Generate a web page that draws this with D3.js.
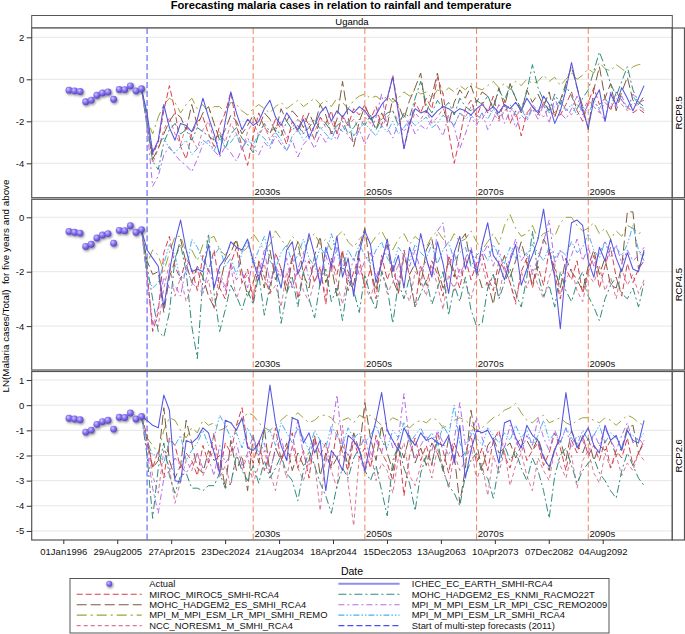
<!DOCTYPE html>
<html><head><meta charset="utf-8">
<script src="https://cdn.jsdelivr.net/npm/d3@7"></script>
<style>body{margin:0;background:#fff}</style>
</head><body>
<svg id="chart" width="685" height="634"></svg>
<script>
// ---------------- DATA ----------------
const titleText = "Forecasting malaria cases in relation to rainfall and temperature";
const countryLabel = "Uganda";
const panelLabels = ["RCP8.5", "RCP4.5", "RCP2.6"];
const yTicks85 = [2, 0, -2, -4];
const yTicks45 = [0, -2, -4];
const yTicks26 = [1, 0, -1, -2, -3, -4, -5];
const xTickLabels = ["01Jan1996","29Aug2005","27Apr2015","23Dec2024","21Aug2034","18Apr2044","15Dec2053","13Aug2063","10Apr2073","07Dec2082","04Aug2092"];
const decadeYears = [2030, 2050, 2070, 2090];
const decadeLabels = ["2030s", "2050s", "2070s", "2090s"];
const forecastStartYear = 2011;

const actualYears = [1997,1998,1999,2000,2001,2002,2003,2004,2005,2006,2007,2008,2009,2010];
const actualValues = [-0.52,-0.55,-0.58,-1.07,-0.99,-0.76,-0.65,-0.60,-0.95,-0.48,-0.49,-0.31,-0.55,-0.45];

const forecastYears = d3.range(2011, 2101);

const seriesNames = ["MIROC_MIROC5_SMHI-RCA4","MOHC_HADGEM2_ES_SMHI_RCA4","MPI_M_MPI_ESM_LR_MPI_SMHI_REMO","NCC_NORESM1_M_SMHI_RCA4","ICHEC_EC_EARTH_SMHI-RCA4","MOHC_HADGEM2_ES_KNMI_RACMO22T","MPI_M_MPI_ESM_LR_MPI_CSC_REMO2009","MPI_M_MPI_ESM_LR_SMHI_RCA4"];

// RCP8.5
const rcp85_miroc = [-2.0,-3.6,-3.0,-1.5,-0.3,-1.5,-3.2,-3.8,-2.6,-2.0,
-1.8,-2.6,-3.2,-2.2,-1.6,-0.6,-2.2,-3.2,-4.1,-2.7,
-1.6,-2.3,-2.6,-1.9,-2.4,-3.1,-2.0,-2.5,-1.7,-2.2,
-2.9,-1.8,-2.1,-1.5,-2.6,-1.8,-2.2,-1.4,-1.7,-1.2,
-1.9,-1.3,-2.2,-1.0,0.2,-1.4,-3.3,-2.2,-1.1,-1.6,
-0.9,-1.4,0.1,-0.7,-2.5,-4.0,-2.8,-1.4,-1.0,-1.8,
-1.1,-1.6,-0.8,-1.9,-1.0,-2.1,-1.5,-2.7,-1.6,-1.3,
-1.7,-1.1,-1.5,-1.7,-1.7,-1.2,-0.6,-1.5,-2.0,-1.1,
-0.4,-1.2,-0.9,-1.5,-0.6,-1.0,-1.3,-1.6,-1.4,-1.6];
const rcp85_mohcSmhi = [-1.8,-3.8,-3.3,-2.6,-2.0,-1.6,-1.8,-2.4,-1.2,-2.2,
-1.6,-1.3,-2.1,-2.9,-2.4,-1.7,-2.0,-2.6,-2.2,-1.7,
-2.3,-1.6,-1.9,-2.5,-1.4,-2.0,-1.5,-1.8,-2.3,-1.6,
-2.2,-1.2,-1.7,-2.6,-1.9,-0.1,-1.8,-3.2,-2.0,-1.3,
-1.8,-2.4,-1.6,-2.2,-0.9,-1.2,-1.9,-1.0,-0.4,0.3,
-1.6,-0.8,0.3,-1.4,-2.1,-1.1,-0.5,-0.9,-0.3,-1.1,
-0.6,-0.8,-1.4,-0.4,-1.3,-0.2,-0.9,-1.6,-0.5,-1.1,
-0.7,-1.3,-0.6,-1.8,-1.0,-0.2,0.6,-0.4,-1.3,-2.4,
-0.5,0.6,-0.9,-0.2,-1.5,-0.6,0.1,-1.0,-1.2,-0.8];
const rcp85_mpiRemo = [-1.9,-2.6,-1.8,-1.2,-0.9,-1.1,-1.6,-1.2,-0.9,-1.4,
-1.2,-1.6,-1.3,-1.3,-1.6,-1.1,-1.2,-1.5,-1.7,-1.4,
-1.2,-1.4,-1.6,-1.3,-1.1,-1.4,-1.2,-1.0,-1.3,-1.1,
-0.9,-1.2,-1.0,-1.3,-0.9,-1.1,-1.4,-1.0,-0.8,-0.7,
-0.9,-0.8,-1.0,-0.8,-1.1,-0.9,-0.6,-0.8,-0.5,-0.7,
-0.6,-0.9,-0.5,-0.7,-0.4,-0.6,-0.3,-0.5,-0.2,-0.4,
-0.5,-0.3,-0.1,-0.4,-0.2,-0.5,-0.1,-0.3,0.0,-0.2,
-0.1,0.2,-0.1,0.1,-0.3,0.0,0.3,0.0,0.2,0.5,
0.3,0.8,0.5,0.4,0.7,0.5,0.3,0.6,0.7,0.7];
const rcp85_ncc = [-2.1,-4.0,-3.3,-2.4,-1.8,-2.6,-3.1,-2.2,-2.8,-3.3,
-2.4,-2.0,-2.9,-2.5,-3.0,-2.1,-2.6,-3.4,-2.5,-2.0,
-2.7,-2.2,-2.9,-2.4,-2.0,-2.8,-2.3,-1.9,-2.6,-2.1,
-2.5,-1.8,-2.3,-2.0,-2.6,-1.7,-2.2,-1.9,-2.4,-1.8,
-2.1,-1.6,-2.3,-1.8,-1.5,-2.0,-1.7,-2.2,-1.6,-1.9,
-1.5,-2.1,-1.8,-1.4,-1.9,-2.2,-1.6,-1.8,-1.3,-1.7,
-1.9,-1.4,-1.6,-2.0,-1.5,-1.3,-1.8,-1.4,-1.7,-1.2,
-1.5,-1.8,-1.3,-1.6,-1.1,-1.4,-1.7,-1.2,-1.5,-1.0,
-1.3,-1.6,-1.1,-1.4,-0.9,-1.2,-1.5,-1.1,-1.3,-1.4];
const rcp85_ichec = [-1.6,-3.5,-2.9,-1.2,-2.3,-2.9,-2.1,-2.2,-2.5,-1.9,
-0.9,-1.8,-2.6,-3.6,-2.0,-0.6,-1.6,-2.4,-1.9,-2.2,
-2.0,-1.4,-1.0,-1.8,-2.2,-1.6,-2.0,-2.4,-1.9,-2.8,
-2.2,-1.6,-1.3,-2.0,-1.5,-1.8,-1.4,-1.6,-1.3,-1.5,
-1.9,-1.7,-1.2,-0.9,0.1,-1.6,-3.3,-2.1,-1.4,-1.6,
-1.5,-1.8,-1.5,-1.3,-1.4,-1.6,-1.4,-1.5,-1.7,-1.4,
-1.2,-1.5,-1.3,-1.6,-1.2,-1.4,-1.1,-1.5,-0.9,-1.3,
-1.6,-0.8,-1.2,-2.1,-1.5,-0.5,0.8,-0.4,-1.5,-2.3,
-1.0,-0.5,-2.0,-0.7,-1.2,-0.4,-0.9,-1.5,-0.9,-0.3];
const rcp85_mohcKnmi = [-2.2,-3.9,-4.3,-3.0,-2.4,-2.1,-2.6,-2.4,-2.9,-2.3,
-2.5,-2.7,-2.9,-2.6,-3.3,-2.6,-2.3,-2.8,-3.1,-3.5,
-2.6,-2.1,-2.5,-2.3,-2.7,-2.0,-2.4,-2.2,-2.6,-2.3,
-1.9,-2.4,-2.1,-2.5,-2.2,-2.0,-2.6,-2.3,-1.9,-2.2,
-1.7,-2.4,-1.9,-1.6,-1.5,-2.2,-1.6,-1.8,-0.9,-0.1,
-1.2,-1.6,-1.0,-1.4,-1.1,-1.7,-0.9,-1.3,-1.5,-1.0,
-1.2,-0.8,-1.3,-0.5,-1.0,-0.3,-0.9,-1.4,-0.6,0.7,
-0.4,-1.0,-1.5,-0.7,-1.2,-0.3,-0.8,-1.4,-0.9,-0.5,
0.4,1.3,0.6,-0.2,-0.8,-0.1,0.6,-0.5,-1.1,-1.3];
const rcp85_mpiCsc = [-2.3,-5.1,-4.6,-3.6,-3.2,-3.6,-3.9,-4.1,-4.4,-3.8,
-3.1,-2.9,-3.4,-3.7,-3.2,-3.5,-3.9,-3.3,-2.8,-3.2,
-3.6,-3.0,-3.3,-2.7,-3.1,-3.4,-2.9,-3.7,-3.1,-2.8,
-3.3,-2.6,-3.0,-2.5,-2.9,-2.2,-2.7,-3.0,-2.4,-3.1,
-2.5,-1.8,-0.7,-2.3,-2.8,-2.1,-2.5,-2.0,-2.6,-2.2,
-2.4,-1.9,-2.2,-2.7,-1.7,-2.3,-3.3,-2.6,-1.8,-2.2,
-1.6,-2.4,-1.9,-1.2,-2.1,-1.5,-2.3,-1.7,-2.0,-1.4,
-1.9,-1.2,-2.1,-0.9,-1.6,-1.9,-1.4,-0.8,-1.7,-1.2,
-0.9,-1.5,-2.0,-0.6,-1.3,-0.8,-1.4,-0.7,-1.1,-1.0];
const rcp85_mpiRca4 = [-2.0,-3.4,-3.0,-2.8,-3.3,-3.5,-3.2,-2.9,-3.6,-3.3,
-2.9,-3.1,-3.4,-2.8,-3.2,-3.0,-2.6,-3.3,-2.9,-3.1,
-2.6,-2.8,-3.2,-2.5,-2.9,-3.4,-2.7,-2.4,-2.9,-2.6,
-2.8,-2.3,-2.6,-2.9,-2.2,-2.5,-2.0,-2.7,-2.3,-2.1,
-2.4,-2.7,-2.2,-2.5,-2.0,-2.6,-2.3,-1.9,-2.2,-2.0,
-1.8,-2.3,-2.1,-1.7,-2.0,-2.2,-1.6,-1.9,-1.7,-2.0,
-1.6,-1.9,-1.4,-1.8,-1.5,-1.2,-1.7,-1.4,-1.9,-1.3,
-1.5,-1.2,-1.6,-1.3,-1.0,-1.5,-1.2,-1.7,-1.3,-1.6,
-1.1,-1.4,-0.9,-1.3,-0.6,-1.0,-1.4,-0.8,-1.2,-1.5];

// RCP4.5
const rcp45_miroc = [-2.0,-4.2,-3.5,-1.3,-0.7,-1.8,-2.3,-1.5,-1.9,-2.7,
-1.4,-2.0,-1.2,-2.6,-3.0,-1.7,-1.1,-2.4,-1.9,-3.1,
-1.6,-2.2,-2.8,-1.3,-1.9,-2.5,-1.4,-3.0,-2.0,-1.6,
-2.4,-1.8,-3.2,-1.5,-2.1,-1.2,-2.7,-2.0,-1.5,-2.6,
-1.9,-3.0,-1.4,-2.3,-1.7,-2.8,-1.2,-2.2,-3.3,-1.8,
-2.5,-1.6,-2.1,-2.9,-1.4,-2.0,-2.6,-1.5,-2.3,-1.7,
-1.3,-2.2,-2.7,-1.6,-1.9,-2.4,-3.1,-2.0,-1.5,-2.6,
-1.8,-2.5,-1.2,-2.1,-3.0,-1.9,-2.3,-1.6,-2.8,-2.0,
-1.4,-2.6,-1.8,-1.1,-2.2,-2.9,-1.7,-2.4,-1.9,-1.6];
const rcp45_mohcSmhi = [-1.6,-2.1,-2.0,-3.5,-2.2,-1.6,-0.8,-1.7,-2.4,-1.8,
-2.2,-2.9,-3.3,-2.5,-1.6,-1.3,-0.8,-2.0,-2.9,-2.4,
-1.7,-2.6,-1.2,-2.3,-1.9,-2.8,-1.5,-0.9,-2.1,-2.6,
-1.4,-0.7,-2.4,-1.8,-2.9,-1.3,-2.0,-2.5,-1.1,-0.4,
-1.9,-2.7,-1.6,-1.0,-2.3,-2.8,-1.4,-2.1,-1.7,-2.5,
-1.2,-0.8,-1.9,-2.6,-1.5,-2.2,-0.9,-0.6,-1.8,-1.9,
-2.6,-2.4,-3.2,-2.0,-1.4,-2.2,-1.6,-0.9,-1.7,-2.5,
-1.6,-0.8,-1.2,-1.9,-2.6,-1.5,-2.0,-2.3,-2.7,-1.8,
-1.2,-2.1,-1.5,-2.5,-2.6,-1.8,0.2,0.2,-1.9,-1.3];
const rcp45_mpiRemo = [-1.7,-1.2,-1.4,-2.0,-1.3,-0.7,-0.7,-1.3,-1.2,-1.6,
-1.0,-0.8,-0.7,-1.2,-1.4,-1.0,-0.9,-1.3,-1.1,-0.6,
-0.9,-1.2,-1.0,-0.5,-0.8,-1.1,-0.7,-0.9,-1.3,-0.8,
-0.6,-1.0,-0.8,-1.2,-0.7,-0.5,-0.9,-1.1,-0.8,-0.6,
-1.0,-0.7,-0.5,-0.9,-1.2,-0.8,-0.6,-1.0,-0.7,-0.9,
-1.1,-0.7,-0.5,-0.8,-1.0,-0.6,-0.9,-0.8,-0.5,-0.9,
-1.2,-0.9,-0.6,-1.0,-0.3,0.1,-0.4,-0.7,-0.6,-0.3,
-0.8,-0.6,-0.5,-0.7,-0.2,0.0,0.0,-0.3,-0.5,-0.4,
-0.2,-0.6,-0.4,-0.8,-0.5,-0.7,-0.3,-0.4,-0.6,-0.5];
const rcp45_ncc = [-2.2,-3.9,-4.0,-2.6,-1.7,-2.9,-2.2,-3.1,-2.5,-1.9,
-2.7,-2.3,-3.4,-2.0,-2.6,-1.8,-3.0,-2.4,-2.1,-2.9,
-2.2,-1.7,-2.8,-2.5,-3.3,-2.0,-2.6,-1.9,-2.7,-3.1,
-2.3,-2.0,-2.9,-1.6,-2.4,-3.2,-2.1,-2.7,-1.8,-2.5,
-3.0,-2.2,-1.9,-2.8,-2.4,-1.7,-2.6,-3.1,-2.0,-2.3,
-2.9,-1.8,-2.5,-3.4,-2.1,-2.7,-1.9,-2.4,-3.0,-2.2,
-1.7,-2.6,-2.1,-2.9,-1.8,-2.4,-3.2,-2.0,-2.6,-1.9,
-2.5,-3.0,-2.2,-1.7,-2.8,-2.3,-1.9,-2.7,-3.1,-2.1,
-2.4,-1.8,-2.7,-2.2,-3.0,-1.9,-2.5,-2.1,-2.8,-2.3];
const rcp45_ichec = [-1.2,-1.5,-1.8,-3.3,-2.0,-0.9,-0.1,-1.2,-2.0,-1.9,
-2.0,-1.0,-2.6,-1.8,-1.5,-0.9,-1.1,-1.2,-0.8,-1.6,
-2.3,-1.5,-0.5,-1.9,-2.6,-1.2,-0.9,-2.1,-1.6,-0.6,
-1.4,-2.5,-1.1,-1.8,-0.7,-2.2,-1.5,-2.9,-1.3,-0.5,
-1.0,-2.4,-1.7,-0.8,-2.0,-1.4,-2.6,-1.1,-1.8,-0.6,
-1.5,-2.2,-0.9,-1.7,-2.8,-1.3,-0.7,-1.9,-1.2,-2.1,
-1.0,-0.2,-1.4,-1.7,-2.3,-1.6,-1.0,-2.5,-1.9,-1.4,
-0.8,0.3,-1.2,-2.2,-4.1,-1.8,-0.2,-0.1,-0.3,-1.6,
-2.2,-1.1,-1.6,-0.8,-1.5,-2.0,-1.3,-1.9,-2.0,-1.2];
const rcp45_mohcKnmi = [-1.8,-3.0,-4.2,-4.4,-3.5,-1.5,-1.0,-2.0,-4.0,-5.2,
-2.2,-0.6,-2.8,-4.2,-3.4,-2.5,-2.9,-3.4,-2.7,-3.2,
-2.1,-3.6,-2.5,-1.8,-3.9,-2.8,-2.2,-3.3,-2.0,-3.0,
-3.7,-2.4,-1.9,-3.1,-2.6,-3.8,-2.3,-2.7,-3.5,-2.1,
-2.9,-3.4,-2.0,-2.6,-3.9,-2.4,-3.0,-2.2,-3.3,-2.8,
-2.3,-3.2,-2.6,-2.0,-3.6,-2.5,-3.1,-2.2,-3.4,-4.0,
-3.9,-2.6,-2.1,-3.0,-2.4,-1.9,-2.8,-3.3,-2.2,-0.5,
-2.1,-2.9,-2.5,-3.3,-2.0,-2.7,-3.1,-2.4,-2.0,-2.9,
-3.3,-3.8,-3.0,-2.5,-2.2,-2.8,-3.0,-2.6,-3.3,-2.4];
const rcp45_mpiCsc = [-2.3,-4.0,-3.3,-2.2,-2.6,-2.5,-2.9,-1.8,-2.4,-2.6,
-2.8,-1.9,-2.5,-2.2,-2.7,-1.7,-2.3,-2.0,-2.6,-1.5,
-2.1,-1.2,-2.4,-1.8,-2.2,-1.5,-2.6,-1.9,-1.3,-2.3,
-1.7,-2.5,-1.4,-2.0,-1.1,-1.8,-2.3,-1.5,-2.1,-1.6,
-1.3,-2.2,-1.7,-1.0,-1.9,-2.4,-1.4,-1.8,-1.2,-2.0,
-1.6,-2.1,-0.5,-0.2,-1.8,-1.3,-2.2,-1.5,-1.1,-1.9,
-1.4,-1.0,-1.8,-1.2,-2.0,-1.5,-0.8,-1.6,-1.3,-2.1,
-1.5,-0.9,-0.1,-1.7,-1.2,-1.9,-1.4,-0.8,-1.6,-1.1,
-1.8,-1.3,-0.9,-1.5,-1.0,-1.7,-1.2,-1.6,-1.4,-1.1];
const rcp45_mpiRca4 = [-2.1,-2.6,-2.4,-1.7,-1.0,-1.4,-2.3,-2.0,-0.8,-1.1,
-1.6,-1.9,-1.4,-1.1,-1.8,-1.5,-2.1,-1.3,-0.9,-1.7,
-1.2,-0.7,-1.6,-1.9,-1.3,-1.0,-1.7,-1.4,-0.8,-1.5,
-1.8,-1.1,-1.4,-0.6,-1.3,-1.9,-1.2,-1.6,-1.0,-1.4,
-1.7,-1.2,-0.9,-1.5,-1.8,-1.1,-1.4,-1.6,-1.0,-1.3,
-1.5,-1.0,-1.7,-1.2,-0.9,-1.6,-1.3,-1.1,-1.8,-1.4,
-1.2,-1.6,-1.0,-1.4,-1.7,-1.1,-1.5,-1.2,-1.4,-1.0,
-1.3,-1.6,-1.1,-1.5,-1.2,-1.4,-0.9,-1.3,-1.1,-0.6,
-1.2,-1.5,-0.9,-1.3,-1.1,-1.4,-1.0,-0.3,-1.2,-1.6];

// RCP2.6
const rcp26_miroc = [-1.2,-2.5,-1.8,-2.9,-1.3,-1.6,-2.5,-1.9,-2.2,-2.8,
-1.6,-2.3,-1.1,-2.7,-1.5,-1.9,-0.8,-0.1,-1.6,-2.3,
-1.4,-2.6,-1.9,-0.9,-2.2,-1.7,-1.1,-2.5,-1.8,-2.9,
-1.3,-2.0,-1.5,-2.4,-1.0,-1.9,-2.6,-1.4,-2.1,-1.7,
-2.5,-1.2,-1.9,-2.3,-3.0,-1.5,-3.6,-2.0,-1.3,-2.2,
-1.6,-2.4,-1.1,-1.8,-2.7,-1.5,-2.1,-1.9,-1.2,-2.3,
-1.7,-2.6,-1.4,-1.0,-2.0,-2.5,-1.6,-1.3,-2.2,-1.8,
-1.5,-2.4,-1.9,-1.1,-1.7,-2.6,-1.4,-1.9,-1.2,-2.0,
-1.6,-2.2,-1.4,-2.5,-1.8,-2.1,-1.3,-2.4,-1.9,-1.4];
const rcp26_mohcSmhi = [-1.4,-2.5,-2.2,-0.1,-2.2,-2.9,-2.4,-0.6,-1.5,-2.5,
-2.7,-1.8,-2.2,-2.0,-3.3,-1.4,-2.6,-2.0,-3.4,-1.2,
-2.3,-0.9,-2.7,-1.7,-2.2,-1.5,-2.6,-1.9,-2.4,-2.2,
-1.2,-2.8,-1.9,-2.5,-2.1,-1.6,-2.4,-1.1,-1.8,0.1,
-1.3,-2.2,-0.8,-1.9,-2.6,-1.5,-2.1,-1.2,-2.3,-1.7,
-2.4,-1.5,-1.9,-2.6,-1.3,-2.0,-3.9,-2.5,-0.2,-1.5,
-2.6,-1.6,-1.3,-1.9,-1.7,-1.5,-2.1,-1.6,-1.4,-1.8,
-1.3,-2.0,-2.6,-1.7,-1.4,-2.2,-1.0,-1.6,-1.9,-1.3,
-2.2,-1.6,-1.8,-1.4,-2.0,-1.7,-0.9,-0.8,-1.9,-1.5];
const rcp26_mpiRemo = [-1.3,-1.6,-1.9,-1.0,-0.5,-0.6,-1.0,-1.3,-0.9,-1.1,
-0.6,-0.8,-0.7,-1.0,-0.9,-0.7,-0.8,-0.6,-0.3,-0.4,
-0.7,-0.9,-1.0,-0.8,-0.6,-0.4,-0.5,-0.3,-0.5,-0.7,
-0.6,-0.4,-0.4,-0.5,-0.8,-0.6,-0.5,-0.7,-0.4,-0.5,
-0.4,-0.6,-0.8,-0.7,-0.5,-0.6,-0.8,-0.9,-0.7,-0.6,
-0.7,-0.5,-0.6,-0.9,-0.8,-0.6,-0.5,-0.6,-0.8,-1.0,
-0.9,-0.7,-0.5,-0.4,-0.2,-0.1,0.07,-0.3,-0.6,-0.7,
-0.5,-0.4,-0.7,-0.6,-0.5,-0.7,-0.8,-0.6,-0.5,-0.5,
-0.6,-0.7,-0.5,-0.6,-0.8,-0.6,-0.4,-0.5,-0.7,-0.8];
const rcp26_ncc = [-1.5,-2.8,-3.5,-1.8,-2.5,-3.9,-3.0,-2.2,-2.6,-1.9,
-2.8,-2.3,-1.7,-2.9,-2.4,-3.2,-1.9,-2.6,-2.0,-3.1,
-2.4,-1.8,-2.7,-3.4,-2.1,-2.9,-1.6,-2.5,-3.0,-2.2,
-2.3,-4.2,-1.9,-2.6,-3.3,-0.8,-3.1,-4.8,-2.0,-2.7,
-1.8,-3.0,-2.3,-2.6,-3.5,-2.1,-1.5,-2.8,-3.2,-2.4,
-2.0,-2.9,-1.7,-2.5,-3.3,-1.9,-2.6,-2.2,-1.6,-3.0,
-2.3,-3.6,-2.0,-2.7,-1.8,-3.2,-2.4,-1.9,-2.8,-3.4,
-2.1,-2.6,-3.0,-1.7,-2.4,-2.9,-2.0,-3.3,-2.2,-1.8,
-2.7,-3.1,-1.9,-2.5,-2.0,-2.8,-2.3,-2.6,-1.9,-2.2];
const rcp26_ichec = [-0.6,-0.8,-0.9,0.4,-0.2,-3.0,-3.05,-1.4,-1.5,-1.3,
-0.9,-1.1,-1.9,-2.7,-0.6,-0.7,-1.0,-0.5,-1.7,-1.8,
-1.5,-0.9,0.8,-0.7,-1.6,-2.2,-0.5,-0.6,-1.5,-1.1,
-1.9,-1.4,-3.4,-1.8,-2.1,-2.6,-1.2,-1.4,-1.8,-2.6,
-1.5,-0.6,0.5,-1.0,-1.4,-1.8,-0.9,-1.3,-1.6,-1.1,
-1.4,-1.3,-1.5,-1.6,-1.2,-2.3,-0.8,-2.9,-1.8,-1.0,
-1.1,-1.0,-1.4,-2.3,-0.7,-0.6,-1.3,-1.7,-0.8,-1.2,
-1.4,-2.1,-2.45,-1.8,-1.2,0.5,-1.0,-1.7,-1.3,-0.9,
-1.6,-1.9,-0.8,-1.4,-1.2,-1.8,-1.0,-1.4,-1.5,-0.6];
const rcp26_mohcKnmi = [-2.0,-4.5,-2.5,-1.5,-2.8,-3.5,-2.8,-2.7,-3.3,-3.3,
-3.4,-3.2,-3.2,-2.7,-3.3,-3.1,-2.0,-2.6,-3.0,-2.4,
-3.1,-2.2,-2.9,-2.5,-2.0,-2.7,-3.0,-3.8,-2.6,-1.8,
-2.4,-3.1,-3.6,-4.3,-3.2,-2.5,-2.9,-2.1,-1.7,-2.6,
-3.0,-2.4,-3.4,-4.4,-2.2,-1.6,-2.5,-3.1,-4.2,-2.7,
-2.0,-2.3,-1.4,-2.6,-3.2,-3.5,-4.0,-2.8,-2.2,-1.9,
-2.7,-2.9,-3.7,-2.4,-1.6,-2.2,-1.8,-2.5,-3.0,-2.1,
-2.6,-3.4,-4.5,-2.8,-2.0,-1.7,-2.4,-3.1,-2.6,-2.3,
-2.1,-2.7,-3.0,-3.4,-3.7,-2.6,-1.9,-2.4,-2.9,-3.2];
const rcp26_mpiCsc = [-1.8,-3.3,-4.3,-2.9,-2.6,-2.1,-2.4,-2.7,-2.3,-1.9,
-2.5,-2.1,-2.8,-1.6,-2.3,-2.0,-1.5,-2.4,-1.9,-1.2,
-2.0,-1.5,-2.6,-1.8,-1.3,-2.2,-1.7,-0.6,-2.0,-2.4,
-1.5,-1.9,-2.3,-1.1,0.4,-1.6,-2.0,-1.3,-1.8,-1.2,
-2.2,-1.4,-1.9,-0.9,-1.7,-1.3,0.46,-1.5,-2.1,-1.6,
-1.2,-1.8,-1.0,-1.5,-2.0,-1.4,0.1,-1.6,-1.2,-0.5,
-1.3,-1.9,-1.5,-1.1,-1.7,-0.8,-1.4,-1.9,-1.2,-1.6,
-0.5,-1.3,-1.8,-1.0,-1.5,-0.9,-1.7,-1.2,-1.4,-1.9,
-1.1,-1.6,-0.9,-1.4,-1.8,-1.2,-0.7,-1.5,-1.3,-1.6];
const rcp26_mpiRca4 = [-1.4,-2.0,-1.9,-2.3,-1.4,-1.6,-1.2,-2.2,-1.8,-1.5,
-1.0,-1.6,-1.3,-0.4,-0.8,-1.3,-1.1,-1.7,-0.9,-1.4,
-1.9,-1.2,-1.0,-1.6,-0.7,-1.1,-1.5,-0.9,-1.3,-1.8,
-1.0,-1.4,-1.7,-0.8,-1.2,-1.6,-0.9,-1.3,-1.1,-1.5,
-1.2,-0.8,-1.4,-1.7,-1.0,-1.3,-0.7,-1.5,-1.2,-0.9,
-1.4,-1.1,-1.6,-0.8,-1.2,0.0,-1.5,-2.0,-1.0,-1.3,
-1.6,-0.9,-1.2,-1.5,-1.1,-1.4,-0.8,-1.3,-1.0,-1.6,
-1.2,-0.6,-1.4,-1.1,-1.5,-0.9,-1.3,-1.6,-1.0,-1.4,
-1.2,-0.8,-1.5,-1.1,-1.3,-1.7,-1.0,-1.2,-1.4,-1.1];

// ---------------- BUILD ----------------
const panelSeries = [
  [rcp85_miroc, rcp85_mohcSmhi, rcp85_mpiRemo, rcp85_ncc, rcp85_ichec, rcp85_mohcKnmi, rcp85_mpiCsc, rcp85_mpiRca4],
  [rcp45_miroc, rcp45_mohcSmhi, rcp45_mpiRemo, rcp45_ncc, rcp45_ichec, rcp45_mohcKnmi, rcp45_mpiCsc, rcp45_mpiRca4],
  [rcp26_miroc, rcp26_mohcSmhi, rcp26_mpiRemo, rcp26_ncc, rcp26_ichec, rcp26_mohcKnmi, rcp26_mpiCsc, rcp26_mpiRca4]
];
const panelTicks = [yTicks85, yTicks45, yTicks26];

const styles = {
  "MIROC_MIROC5_SMHI-RCA4": {color:"#D8404E", dash:"6,3", lw:1},
  "MOHC_HADGEM2_ES_SMHI_RCA4": {color:"#7A5A3E", dash:"10,4", lw:1},
  "MPI_M_MPI_ESM_LR_MPI_SMHI_REMO": {color:"#9DA33A", dash:"10,4,2,4", lw:1},
  "NCC_NORESM1_M_SMHI_RCA4": {color:"#D8779A", dash:"4,3", lw:1},
  "ICHEC_EC_EARTH_SMHI-RCA4": {color:"#5555E2", dash:null, lw:1.05},
  "MOHC_HADGEM2_ES_KNMI_RACMO22T": {color:"#2F8C7C", dash:"8,3,2,3", lw:1},
  "MPI_M_MPI_ESM_LR_MPI_CSC_REMO2009": {color:"#B46CEA", dash:"6,3,2,3", lw:1},
  "MPI_M_MPI_ESM_LR_SMHI_RCA4": {color:"#4AAEF0", dash:"6,2,1.5,2,1.5,2", lw:1}
};
const drawOrder = [2,3,1,0,5,6,7,4];

const font = "'Liberation Sans', Arial, Helvetica, sans-serif";
const svg = d3.select("#chart").style("font-family", font);
const plotL = 31.7, plotR = 672.3, stripR = 684.5;
const boxes = [
  {top:28, bottom:197.7, dom:[-5.638, 2.443]},
  {top:199.3, bottom:370, dom:[-5.614, 0.662]},
  {top:371.5, bottom:540, dom:[-5.36, 1.339]}
];
const yd = yr => new Date(yr, 0, 1);
const x = d3.scaleTime().domain([new Date(1990,4,5), new Date(2105,0,20)]).range([plotL, plotR]);
const parseTick = d3.timeParse("%d%b%Y");
const xTickDates = xTickLabels.map(parseTick);

const defs = svg.append("defs");
const grad = defs.append("radialGradient").attr("id","ball").attr("cx","38%").attr("cy","35%").attr("r","65%");
grad.append("stop").attr("offset","0%").attr("stop-color","#D2CAFF");
grad.append("stop").attr("offset","45%").attr("stop-color","#8C7BF2");
grad.append("stop").attr("offset","100%").attr("stop-color","#5A44CC");
const filt = defs.append("filter").attr("id","shadow").attr("x","-60%").attr("y","-60%").attr("width","220%").attr("height","220%");
filt.append("feDropShadow").attr("dx",1).attr("dy",1.4).attr("stdDeviation",0.9).attr("flood-color","#333").attr("flood-opacity",0.55);

// title
svg.append("text").attr("x", 341).attr("y", 9).attr("text-anchor","middle")
  .attr("font-size", 11.2).attr("font-weight","bold").text(titleText);

// country strip
svg.append("rect").attr("x", plotL).attr("y", 15.5).attr("width", plotR-plotL).attr("height", 12.5)
  .attr("fill","#fff").attr("stroke","#555").attr("stroke-width",1);
svg.append("text").attr("x",(plotL+plotR)/2).attr("y",22).attr("dy","0.35em").attr("text-anchor","middle")
  .attr("font-size",9.5).text(countryLabel);

const line = d3.line().x(d => x(d.date)).y(d => d.y);

boxes.forEach((b, i) => {
  const y = d3.scaleLinear().domain(b.dom).range([b.bottom, b.top]);
  const g = svg.append("g");
  const clipId = "clip" + i;
  defs.append("clipPath").attr("id", clipId).append("rect")
    .attr("x", plotL).attr("y", b.top).attr("width", plotR-plotL).attr("height", b.bottom-b.top);
  g.append("rect").attr("x", plotL).attr("y", b.top).attr("width", plotR-plotL).attr("height", b.bottom-b.top).attr("fill","#fff");
  g.selectAll(".grid").data(panelTicks[i]).join("line")
    .attr("x1", plotL).attr("x2", plotR).attr("y1", d => y(d)).attr("y2", d => y(d))
    .attr("stroke","#E6E6E6").attr("stroke-width",1);
  const inner = g.append("g").attr("clip-path", `url(#${clipId})`);
  decadeYears.forEach((yr, k) => {
    inner.append("line").attr("x1", x(yd(yr))).attr("x2", x(yd(yr))).attr("y1", b.top).attr("y2", b.bottom)
      .attr("stroke","#F4845A").attr("stroke-width",1).attr("stroke-dasharray","6,3");
    inner.append("text").attr("x", x(yd(yr)) + 1.2).attr("y", b.bottom - 3)
      .attr("font-size", 9.5).attr("fill","#111").text(decadeLabels[k]);
  });
  inner.append("line").attr("x1", x(yd(forecastStartYear))).attr("x2", x(yd(forecastStartYear)))
    .attr("y1", b.top).attr("y2", b.bottom).attr("stroke","#4D4DF5").attr("stroke-width",1).attr("stroke-dasharray","6,3");
  const lastActual = {date: yd(actualYears[actualYears.length-1]), y: y(actualValues[actualValues.length-1])};
  drawOrder.forEach(si => {
    const name = seriesNames[si];
    const st = styles[name];
    const vals = panelSeries[i][si];
    const pts = [lastActual].concat(forecastYears.map((yr, k) => ({date: yd(yr), y: y(vals[k])})));
    inner.append("path").attr("d", line(pts)).attr("fill","none")
      .attr("stroke", st.color).attr("stroke-width", st.lw)
      .attr("stroke-dasharray", st.dash).attr("stroke-linejoin","round");
  });
  inner.selectAll(".dot").data(actualYears).join("circle")
    .attr("cx", (d) => x(yd(d))).attr("cy", (d, k) => y(actualValues[k])).attr("r", 3.4)
    .attr("fill","url(#ball)").attr("filter","url(#shadow)");
  g.append("rect").attr("x", plotL).attr("y", b.top).attr("width", plotR-plotL).attr("height", b.bottom-b.top)
    .attr("fill","none").attr("stroke","#555").attr("stroke-width",1.2);
  const ax = g.append("g").attr("transform", `translate(${plotL},0)`)
    .call(d3.axisLeft(y).tickValues(panelTicks[i]).tickSize(5).tickPadding(2.5).tickFormat(d => String(d)));
  ax.select(".domain").remove();
  ax.selectAll("line").attr("stroke","#333");
  ax.selectAll("text").attr("font-size", 9.5).attr("font-family", font).attr("fill","#111");
  g.append("rect").attr("x", plotR).attr("y", b.top).attr("width", stripR - plotR).attr("height", b.bottom-b.top)
    .attr("fill","#fff").attr("stroke","#555").attr("stroke-width",1.2);
  g.append("text").attr("transform", `translate(${(plotR+stripR)/2},${(b.top+b.bottom)/2}) rotate(-90)`)
    .attr("text-anchor","middle").attr("dy","0.35em").attr("font-size",9.5).text(panelLabels[i]);
  if (i === 2) {
    const xa = g.append("g").attr("transform", `translate(0,${b.bottom})`)
      .call(d3.axisBottom(x).tickValues(xTickDates).tickSize(4).tickPadding(4).tickFormat((d, k) => xTickLabels[k]));
    xa.select(".domain").remove();
    xa.selectAll("line").attr("stroke","#333");
    xa.selectAll("text").attr("font-size", 9.5).attr("font-family", font).attr("fill","#111");
  }
});

svg.append("text").attr("x", (plotL+plotR)/2).attr("y", 571).attr("dy","0.35em").attr("text-anchor","middle")
  .attr("font-size", 10.5).text("Date");
svg.append("text").attr("transform", "translate(9,286) rotate(-90)").attr("text-anchor","middle")
  .attr("font-size", 9.8).style("white-space","pre").text("LN(Malaria cases/Total)  for five years and above");

const legL = 70, legT = 578.5, legR = 609, legB = 633;
svg.append("rect").attr("x", legL).attr("y", legT).attr("width", legR-legL).attr("height", legB-legT)
  .attr("fill","#fff").attr("stroke","#555").attr("stroke-width",1);
const leftItems = ["Actual", seriesNames[0], seriesNames[1], seriesNames[2], seriesNames[3]];
const rightItems = [seriesNames[4], seriesNames[5], seriesNames[6], seriesNames[7], "Start of multi-step forecasts (2011)"];
const rowY = k => 583.8 + k * 10.45;
function legendItem(name, k, x0, x1, tx) {
  const yy = rowY(k);
  if (name === "Actual") {
    svg.append("circle").attr("cx", (x0+x1)/2).attr("cy", yy).attr("r", 3).attr("fill","url(#ball)").attr("filter","url(#shadow)");
  } else if (name.startsWith("Start")) {
    svg.append("line").attr("x1", x0).attr("x2", x1).attr("y1", yy).attr("y2", yy)
      .attr("stroke","#4D4DF5").attr("stroke-width",1.1).attr("stroke-dasharray","6,3");
  } else {
    const st = styles[name];
    const isIchec = name.startsWith("ICHEC");
    svg.append("line").attr("x1", x0).attr("x2", x1).attr("y1", yy).attr("y2", yy)
      .attr("stroke", isIchec ? "#8E8EEC" : st.color).attr("stroke-width", isIchec ? 2 : 1.1)
      .attr("stroke-dasharray", st.dash);
  }
  svg.append("text").attr("x", tx).attr("y", yy).attr("dy","0.35em").attr("font-size", 9.4).attr("fill","#111").text(name);
}
leftItems.forEach((n, k) => legendItem(n, k, 76.7, 141.7, 149.3));
rightItems.forEach((n, k) => legendItem(n, k, 338.4, 399.6, 411.8));
</script>
</body></html>
